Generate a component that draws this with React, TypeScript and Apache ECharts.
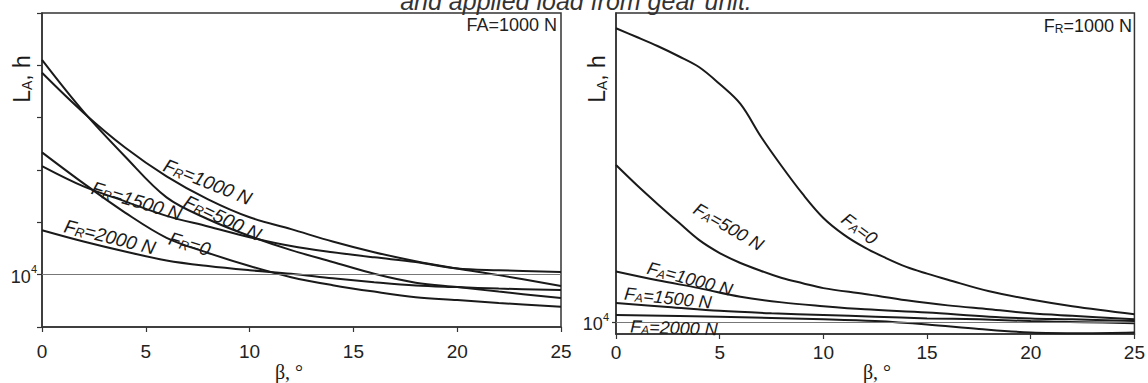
import React, { useEffect, useRef } from "react";
import * as echarts from "echarts";

// ---- Left chart (FA = 1000 N), L in hours vs beta in degrees ----
const betaLeft = [0, 2, 4, 6, 8, 10, 12, 14, 16, 18, 20, 22, 25];
const fr0 = [38400, 27300, 19800, 15000, 12700, 11000, 9730, 8910, 8300, 7810, 7560, 7320, 7020];
const fr500 = [106200, 60100, 36700, 23400, 18400, 15300, 13100, 11500, 10100, 9160, 8720, 8300, 7730];
const fr1000 = [92100, 59400, 40500, 29500, 22900, 18800, 16500, 14400, 12800, 11600, 10700, 9950, 8820];
const fr1500 = [33000, 26400, 22400, 19100, 17000, 15100, 13700, 12800, 12100, 11500, 10700, 10500, 10300];
const fr2000 = [16300, 14400, 12900, 11700, 11000, 10500, 10100, 9620, 9210, 8880, 8720, 8580, 8440];

// ---- Right chart (FR = 1000 N) ----
const betaA0 = [0, 1, 2, 3, 4, 5, 6, 7, 8, 9, 10, 11, 12, 13, 14, 15, 16, 18, 20, 22, 25];
const fa0 = [250400, 227600, 206200, 184800, 163800, 135900, 109200, 76000, 55000, 40700, 31300, 26000, 22600, 20200, 18300, 17000, 15900, 14000, 12800, 11900, 10900];
const betaA500 = [0, 1, 2, 3, 4, 5, 6, 7, 8, 9, 10, 12, 14, 16, 18, 20, 22, 25];
const fa500 = [55900, 44900, 36500, 29900, 24600, 21300, 19100, 17500, 16200, 15300, 14500, 13600, 12700, 12000, 11500, 11000, 10700, 10300];
const betaA1000 = [0, 2, 4, 6, 8, 10, 12, 15, 18, 20, 22, 25];
const fa1000 = [17400, 15800, 14500, 13200, 12400, 11900, 11500, 11100, 10600, 10400, 10300, 10100];
const betaA1500 = [0, 2.5, 5, 7.5, 10, 12.5, 15, 17.5, 20, 22.5, 25];
const fa1500 = [12300, 11800, 11300, 11000, 10800, 10600, 10400, 10300, 10100, 9980, 9860];
const betaA2000 = [0, 5, 10, 12.5, 15, 17.5, 20, 22.5, 25];
const fa2000 = [10800, 10600, 10300, 10100, 9730, 9260, 8910, 8840, 8910];

const xTicks = [0, 5, 10, 15, 20, 25];
const refLife = 10000;

const SANS = '"Liberation Sans", Arial, sans-serif';
const SERIF = '"Liberation Serif", "Times New Roman", serif';
const INK = "#1a1a1a";

const toPts = (b: number[], L: number[]) => b.map((v, i) => [v, Math.log10(L[i])]);

const lineSeries = (name: string, b: number[], L: number[], idx: number, extra: any = {}) => ({
  type: "line",
  name,
  xAxisIndex: idx,
  yAxisIndex: idx,
  data: toPts(b, L),
  smooth: 0.35,
  showSymbol: false,
  symbol: "none",
  lineStyle: { color: INK, width: 2 },
  z: 3,
  ...extra,
});

const refLine = {
  markLine: {
    silent: true,
    symbol: ["none", "none"],
    label: { show: false },
    lineStyle: { color: "#777", width: 1, type: "solid" },
    data: [{ yAxis: Math.log10(refLife) }],
  },
};

const labelRich = (sz: number, italic: boolean) => ({
  f: { fontSize: sz, fontFamily: SANS, fontStyle: italic ? "italic" : "normal", fill: INK, lineHeight: sz + 2, verticalAlign: "bottom" },
  s: { fontSize: Math.round(sz * 0.66), fontFamily: SANS, fontStyle: italic ? "italic" : "normal", fill: INK, lineHeight: Math.round(sz * 0.66) + 1, verticalAlign: "bottom" },
});

const curveLabel = (sub: string, rest: string, x: number, y: number, deg: number, sz = 17) => ({
  type: "text",
  x,
  y,
  rotation: (-deg * Math.PI) / 180,
  z: 10,
  style: {
    text: `{f|F}{s|${sub}}{f|${rest}}`,
    rich: labelRich(sz, true),
    align: "center",
    verticalAlign: "middle",
    fill: INK,
  },
});

const supFormatter = (v: number) => (Math.abs(v - 4) < 1e-6 ? "{a|10}{b|4}" : "");
const supRich = {
  a: { fontSize: 18, fontFamily: SANS, color: "#222", lineHeight: 22, verticalAlign: "bottom" },
  b: { fontSize: 11, fontFamily: SANS, color: "#222", lineHeight: 12, verticalAlign: "top" },
};

const xAxisCfg = (gridIndex: number, margin: number) => ({
  type: "value",
  gridIndex,
  min: xTicks[0],
  max: xTicks[xTicks.length - 1],
  interval: 5,
  axisLine: { show: true, onZero: false, lineStyle: { color: "#333", width: 1.5 } },
  axisTick: { show: true, inside: false, length: 5, lineStyle: { color: "#333", width: 1.2 } },
  axisLabel: { margin, fontSize: 19, fontFamily: SANS, color: "#222" },
  splitLine: { show: false },
});

const yTitle = (x: number, y: number) => ({
  type: "text",
  x,
  y,
  rotation: Math.PI / 2,
  style: {
    text: "{L|L}{A|A}{L|, h}",
    rich: {
      L: { fontSize: 23, fontFamily: SANS, fill: INK, lineHeight: 25, verticalAlign: "bottom" },
      A: { fontSize: 14, fontFamily: SANS, fill: INK, lineHeight: 15, verticalAlign: "bottom" },
    },
    align: "center",
    verticalAlign: "middle",
  },
});

export default function App() {
  const ref = useRef<HTMLDivElement>(null);
  useEffect(() => {
    if (!ref.current) return;
    const chart = echarts.init(ref.current, null, { renderer: "svg" });
    const option: any = {
      animation: false,
      backgroundColor: "#fff",
      grid: [
        { left: 42, top: 13, width: 519, height: 314, show: true, borderColor: "#333", borderWidth: 1.5, containLabel: false },
        { left: 616, top: 13, width: 521, height: 321, show: true, borderColor: "#333", borderWidth: 1.5, containLabel: false },
      ],
      xAxis: [xAxisCfg(0, 15), xAxisCfg(1, 9)],
      yAxis: [
        {
          type: "value",
          gridIndex: 0,
          min: 3.75,
          max: 5.25,
          interval: 0.25,
          axisLine: { show: true, lineStyle: { color: "#333", width: 1.5 } },
          axisTick: { show: true, inside: false, length: 5, lineStyle: { color: "#333", width: 1.2 } },
          axisLabel: { show: true, margin: 5, formatter: supFormatter, rich: supRich },
          splitLine: { show: false },
        },
        {
          type: "value",
          gridIndex: 1,
          min: 4 - 12 / 210,
          max: 4 + 309 / 210,
          axisLine: { show: true, lineStyle: { color: "#333", width: 1.5 } },
          axisTick: { show: true, inside: false, length: 4, customValues: [4], lineStyle: { color: "#333", width: 1.2 } },
          axisLabel: { show: true, margin: 7, customValues: [4], formatter: supFormatter, rich: supRich },
          splitLine: { show: false },
        },
      ],
      series: [
        lineSeries("FR=0", betaLeft, fr0, 0, refLine),
        lineSeries("FR=500 N", betaLeft, fr500, 0),
        lineSeries("FR=1000 N", betaLeft, fr1000, 0),
        lineSeries("FR=1500 N", betaLeft, fr1500, 0),
        lineSeries("FR=2000 N", betaLeft, fr2000, 0),
        lineSeries("FA=0", betaA0, fa0, 1, refLine),
        lineSeries("FA=500 N", betaA500, fa500, 1),
        lineSeries("FA=1000 N", betaA1000, fa1000, 1),
        lineSeries("FA=1500 N", betaA1500, fa1500, 1),
        lineSeries("FA=2000 N", betaA2000, fa2000, 1),
      ],
      graphic: [
        {
          type: "text",
          x: 576,
          y: 13,
          style: {
            text: "and applied load from gear unit.",
            fontSize: 25,
            fontStyle: "italic",
            fontFamily: SANS,
            fill: "#333",
            align: "center",
            verticalAlign: "bottom",
          },
        },
        yTitle(21, 79),
        yTitle(596, 79),
        {
          type: "text",
          x: 289,
          y: 372,
          style: { text: "β, °", fontSize: 20, fontFamily: SERIF, fill: INK, align: "center", verticalAlign: "middle" },
        },
        {
          type: "text",
          x: 877,
          y: 372,
          style: { text: "β, °", fontSize: 20, fontFamily: SERIF, fill: INK, align: "center", verticalAlign: "middle" },
        },
        // corner labels
        {
          type: "text",
          x: 557,
          y: 25,
          style: { text: "FA=1000 N", fontSize: 18, fontFamily: SANS, fill: "#222", align: "right", verticalAlign: "middle" },
        },
        {
          type: "text",
          x: 1132,
          y: 25,
          style: {
            text: "{f|F}{s|R}{f|=1000 N}",
            rich: labelRich(18, false),
            align: "right",
            verticalAlign: "middle",
          },
        },
        // left curve labels
        curveLabel("R", "=1000 N", 208, 181, 22, 19),
        curveLabel("R", "=500 N", 223, 217, 25, 19),
        curveLabel("R", "=1500 N", 137, 200, 17, 19),
        curveLabel("R", "=2000 N", 110, 236, 14, 19),
        curveLabel("R", "=0", 190, 243, 17, 19),
        // right curve labels
        curveLabel("A", "=500 N", 729, 226, 30, 18),
        curveLabel("A", "=0", 860, 228, 37, 18),
        curveLabel("A", "=1000 N", 690, 278, 15, 18),
        curveLabel("A", "=1500 N", 668, 297, 6, 18),
        curveLabel("A", "=2000 N", 674, 327, 2, 18),
      ],
    };
    chart.setOption(option);
    return () => chart.dispose();
  }, []);
  return (
    <div
      ref={ref}
      style={{ position: "fixed", left: 0, top: 0, width: 1148, height: 383, background: "#fff" }}
    />
  );
}
